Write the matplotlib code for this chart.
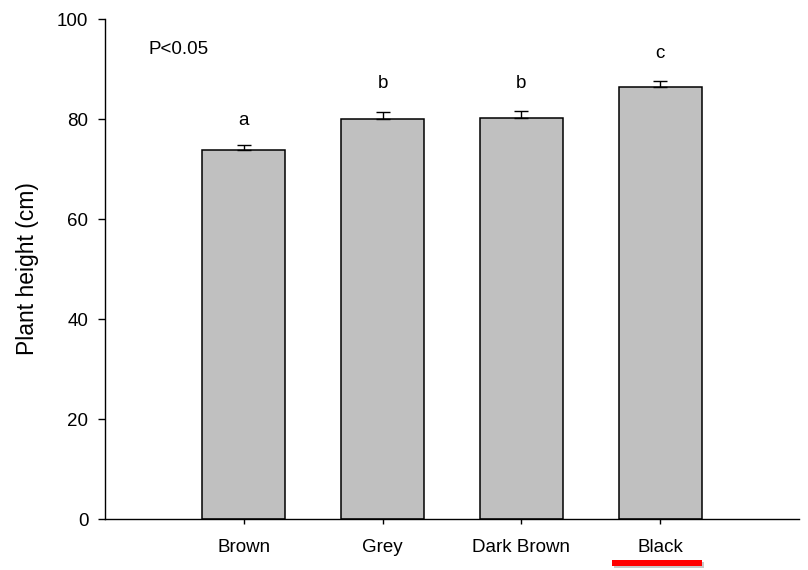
import matplotlib
matplotlib.use("Agg")
import matplotlib.pyplot as plt
from matplotlib.patches import Rectangle

categories = ["Brown", "Grey", "Dark Brown", "Black"]
heights = [73.8, 80.0, 80.2, 86.4]
errors = [1.0, 1.4, 1.4, 1.2]
letters = ["a", "b", "b", "c"]
letter_y = [79.8, 87.2, 87.2, 93.2]
yticks = [0, 20, 40, 60, 80, 100]

plt.rcParams['font.family'] = ['Liberation Sans', 'DejaVu Sans']

fig = plt.figure(figsize=(8.08, 5.70), dpi=100)
ax = fig.add_axes([105/808, 51/570, 694/808, 500/570])

x = list(range(len(categories)))
ax.bar(x, heights, width=0.6, color="#c0c0c0", edgecolor="black", linewidth=1.1, zorder=2)
ax.errorbar(x, heights, yerr=[[0]*len(errors), errors], fmt="none", ecolor="black",
            elinewidth=1.0, capsize=5, capthick=1.0, zorder=3)
for xi, lt, ly in zip(x, letters, letter_y):
    ax.text(xi, ly, lt, ha="center", va="center", fontsize=13.5)
ax.text(-0.69, 94.0, "P<0.05", ha="left", va="center", fontsize=13.5)

ax.set_xlim(-1.0, 4.0)
ax.set_ylim(0, 100)
ax.set_yticks(yticks)
ax.set_xticks(x)
ax.set_xticklabels(categories, fontsize=13.5)
ax.tick_params(axis="x", direction="out", length=3.6, width=1.0, pad=11)
ax.tick_params(axis="y", direction="out", length=5, width=1.0, labelsize=13.5, pad=7)
ax.spines["top"].set_visible(False)
ax.spines["right"].set_visible(False)
ax.spines["left"].set_linewidth(1.0)
ax.spines["bottom"].set_linewidth(1.0)
ax.set_ylabel("Plant height (cm)", fontsize=16.5, labelpad=13)

# red underline below "Black"
fig.patches.append(Rectangle((614/808, (570-568)/570), 90/808, 6/570,
                             transform=fig.transFigure, facecolor="#c8c8c8",
                             edgecolor="none", zorder=4))
fig.patches.append(Rectangle((612/808, (570-566)/570), 90/808, 6/570,
                             transform=fig.transFigure, facecolor="#ff0000",
                             edgecolor="none", zorder=5))

fig.savefig("out.png", dpi=100)
